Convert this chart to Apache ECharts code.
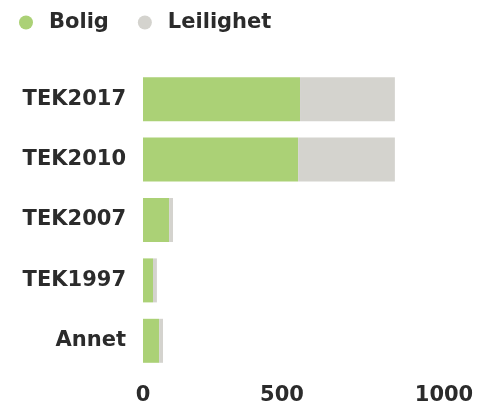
<!DOCTYPE html>
<html>
<head>
<meta charset="utf-8">
<script src="https://cdn.jsdelivr.net/npm/echarts@6/dist/echarts.min.js"></script>
<style>html,body{margin:0;padding:0;background:#fff;}#c{width:486px;height:412px;}</style>
</head>
<body>
<div id="c"></div>
<script>
const categories = ["TEK2017", "TEK2010", "TEK2007", "TEK1997", "Annet"];
const seriesNames = ["Bolig", "Leilighet"];
const bolig = [565, 558, 94, 36, 58];
const leilighet = [341, 348, 14, 14, 14];
const xTicks = [0, 500, 1000];

const FONT = "DejaVu Sans";
const TXT = "#2b2b2b";
const chart = echarts.init(document.getElementById('c'), null, {renderer: 'canvas'});
chart.setOption({
  animation: false,
  color: ["#abd176", "#d4d3ce"],
  legend: {
    data: seriesNames,
    left: 14, top: 7,
    icon: 'circle',
    itemWidth: 14, itemHeight: 14,
    itemGap: 29,
    textStyle: {fontFamily: FONT, fontWeight: 'bold', fontSize: 21, color: TXT, padding: [0, 0, 0, 11]}
  },
  grid: {left: 143, top: 69, width: 278, height: 302, containLabel: false},
  xAxis: {
    type: 'value', min: xTicks[0], max: xTicks[xTicks.length - 1], interval: xTicks[1] - xTicks[0],
    axisLine: {show: false}, axisTick: {show: false}, splitLine: {show: false},
    axisLabel: {
      margin: 14,
      fontFamily: FONT, fontWeight: 'bold', fontSize: 21, color: TXT,
      formatter: function (v) { return v === xTicks[xTicks.length - 1] ? '{r|' + v + '}' : '' + v; },
      rich: {r: {fontFamily: FONT, fontWeight: 'bold', fontSize: 21, color: TXT, padding: [0, 0, 0, 46]}}
    }
  },
  yAxis: {
    type: 'category', data: categories, inverse: true,
    axisLine: {show: false}, axisTick: {show: false}, splitLine: {show: false},
    axisLabel: {margin: 17, fontFamily: FONT, fontWeight: 'bold', fontSize: 21, color: TXT}
  },
  series: [
    {name: seriesNames[0], type: 'bar', stack: 'a', data: bolig, barWidth: 44},
    {name: seriesNames[1], type: 'bar', stack: 'a', data: leilighet, barWidth: 44}
  ]
});
</script>
</body>
</html>
